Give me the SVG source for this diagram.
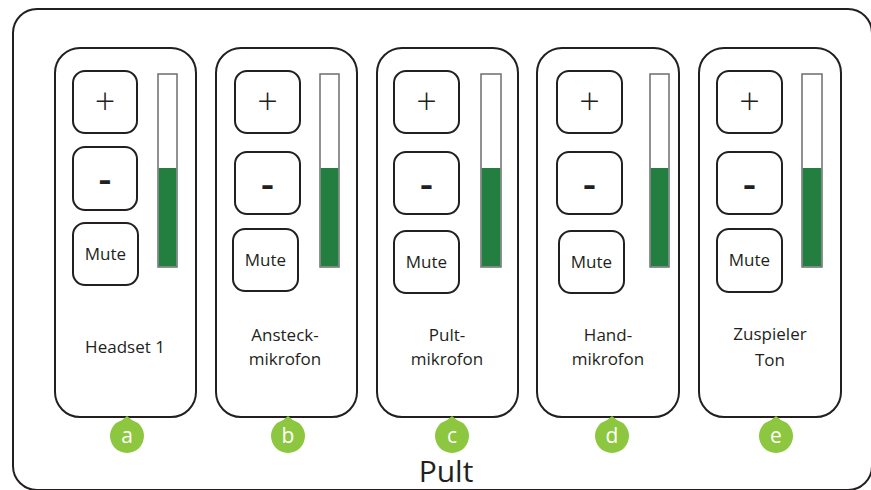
<svg xmlns="http://www.w3.org/2000/svg" width="871" height="490" viewBox="0 0 871 490">
<style>
.frame{fill:#fff;stroke:#231f20;stroke-width:2}
.panel{fill:#fff;stroke:#231f20;stroke-width:2}
.btn{fill:#fff;stroke:#231f20;stroke-width:2}
.bar{fill:#fff;stroke:#6d6e71;stroke-width:1.5}
.lvl{fill:#237f3f}
.badge{fill:#8dc63f}
.t{font-family:"Open Sans","Noto Sans",sans-serif;fill:#231f20;text-anchor:middle}
.lbl{font-size:17px}
.sym{font-size:36px;font-weight:300}
.minus{font-size:40px;font-weight:600}
.bt{font-family:"Open Sans","Noto Sans",sans-serif;fill:#fff;font-size:21px;text-anchor:middle}
</style>
<rect class="frame" x="13" y="9" width="859" height="481" rx="24"/>
<g id="panel-a">
<rect class="panel" x="55" y="48" width="141" height="369" rx="25"/>
<rect class="btn" x="73" y="71" width="64" height="62" rx="12"/>
<text class="t sym" x="105" y="114">+</text>
<rect class="btn" x="73" y="147" width="64" height="63" rx="12"/>
<text class="t minus" x="105" y="193">-</text>
<rect class="btn" x="73" y="223" width="65" height="62" rx="12"/>
<text class="t lbl" x="105.5" y="260">Mute</text>
<rect class="bar" x="158" y="74" width="19" height="193"/>
<rect class="lvl" x="158.75" y="168" width="17.5" height="98.25"/>
<text class="t lbl" x="125" y="353">Headset 1</text>
<path class="badge" d="M127,416 Q132,421 138,423 A17,17 0 1 1 116,423 Q122,421 127,416 Z"/>
<text class="bt" x="127" y="443">a</text>
</g>
<g id="panel-b">
<rect class="panel" x="216" y="48" width="141" height="369" rx="25"/>
<rect class="btn" x="235" y="71" width="65" height="62" rx="12"/>
<text class="t sym" x="267.5" y="114">+</text>
<rect class="btn" x="235" y="152" width="65" height="62" rx="12"/>
<text class="t minus" x="267.5" y="198">-</text>
<rect class="btn" x="233" y="229" width="65" height="62" rx="12"/>
<text class="t lbl" x="265.5" y="266">Mute</text>
<rect class="bar" x="320" y="74" width="19" height="193"/>
<rect class="lvl" x="320.75" y="168" width="17.5" height="98.25"/>
<text class="t lbl" x="285" y="341">Ansteck-</text>
<text class="t lbl" x="285" y="365">mikrofon</text>
<path class="badge" d="M288,416 Q293,421 299,423 A17,17 0 1 1 277,423 Q283,421 288,416 Z"/>
<text class="bt" x="288" y="443">b</text>
</g>
<g id="panel-c">
<rect class="panel" x="377" y="48" width="141" height="369" rx="25"/>
<rect class="btn" x="394" y="71" width="65" height="62" rx="12"/>
<text class="t sym" x="426.5" y="114">+</text>
<rect class="btn" x="394" y="152" width="65" height="62" rx="12"/>
<text class="t minus" x="426.5" y="198">-</text>
<rect class="btn" x="394" y="231" width="65" height="62" rx="12"/>
<text class="t lbl" x="426.5" y="268">Mute</text>
<rect class="bar" x="481" y="74" width="20" height="193"/>
<rect class="lvl" x="481.75" y="168" width="18.5" height="98.25"/>
<text class="t lbl" x="447" y="341">Pult-</text>
<text class="t lbl" x="447" y="365">mikrofon</text>
<path class="badge" d="M452,416 Q457,421 463,423 A17,17 0 1 1 441,423 Q447,421 452,416 Z"/>
<text class="bt" x="452" y="443">c</text>
</g>
<g id="panel-d">
<rect class="panel" x="537" y="48" width="142" height="369" rx="25"/>
<rect class="btn" x="557" y="71" width="65" height="62" rx="12"/>
<text class="t sym" x="589.5" y="114">+</text>
<rect class="btn" x="557" y="152" width="65" height="62" rx="12"/>
<text class="t minus" x="589.5" y="198">-</text>
<rect class="btn" x="559" y="231" width="65" height="62" rx="12"/>
<text class="t lbl" x="591.5" y="268">Mute</text>
<rect class="bar" x="650" y="74" width="19" height="193"/>
<rect class="lvl" x="650.75" y="168" width="17.5" height="98.25"/>
<text class="t lbl" x="608" y="341">Hand-</text>
<text class="t lbl" x="608" y="365">mikrofon</text>
<path class="badge" d="M612,416 Q617,421 623,423 A17,17 0 1 1 601,423 Q607,421 612,416 Z"/>
<text class="bt" x="612" y="443">d</text>
</g>
<g id="panel-e">
<rect class="panel" x="699" y="48" width="142" height="369" rx="25"/>
<rect class="btn" x="717" y="71" width="65" height="62" rx="12"/>
<text class="t sym" x="749.5" y="114">+</text>
<rect class="btn" x="717" y="152" width="65" height="62" rx="12"/>
<text class="t minus" x="749.5" y="198">-</text>
<rect class="btn" x="717" y="229" width="65" height="63" rx="12"/>
<text class="t lbl" x="749.5" y="266">Mute</text>
<rect class="bar" x="802" y="74" width="20" height="193"/>
<rect class="lvl" x="802.75" y="168" width="18.5" height="98.25"/>
<text class="t lbl" x="770" y="340">Zuspieler</text>
<text class="t lbl" x="770" y="366">Ton</text>
<path class="badge" d="M776,416 Q781,421 787,423 A17,17 0 1 1 765,423 Q771,421 776,416 Z"/>
<text class="bt" x="776" y="443">e</text>
</g>
<text class="t" x="446" y="482" font-size="30">Pult</text>
</svg>
